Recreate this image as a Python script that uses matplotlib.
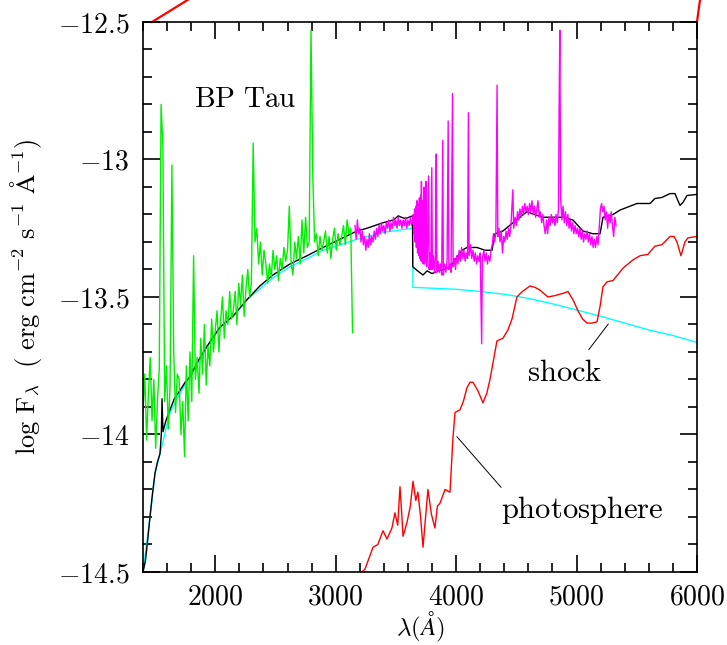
import numpy as np
import matplotlib.pyplot as plt
from matplotlib.ticker import MultipleLocator, FuncFormatter

plt.rcParams['mathtext.fontset'] = 'cm'
plt.rcParams['font.family'] = 'serif'
plt.rcParams['font.serif'] = ['DejaVu Serif']

# ---- data ----
# IUE spectrum (green), 15 A grid from 1400 to 3140
uv_wl = np.arange(1400, 3141, 15)
uv_flux = [
    -13.92, -13.78, -14.02, -13.85, -13.72, -13.95, -13.80, -14.05, -13.88, -13.76,
    -12.80, -12.95, -13.88, -13.75, -13.98, -13.82, -13.02, -13.70, -13.92, -13.78,
    -13.80, -14.00, -13.88, -14.08, -13.75, -13.95, -13.70, -13.88, -13.35, -13.80,
    -13.72, -13.85, -13.65, -13.78, -13.60, -13.82, -13.68, -13.75, -13.58, -13.70,
    -13.62, -13.55, -13.70, -13.58, -13.50, -13.65, -13.55, -13.60, -13.48, -13.58,
    -13.55, -13.48, -13.60, -13.45, -13.53, -13.42, -13.57, -13.47, -13.40, -13.50,
    -13.45, -12.94, -13.30, -13.25, -13.38, -13.30, -13.42, -13.33, -13.38, -13.45,
    -13.38, -13.43, -13.33, -13.40, -13.35, -13.44, -13.36, -13.40, -13.32, -13.37,
    -13.33, -13.17, -13.38, -13.42, -13.30, -13.36, -13.28, -13.38, -13.22, -13.34,
    -13.21, -13.32, -13.30, -12.53, -13.06, -13.30, -13.27, -13.35, -13.28, -13.33,
    -13.30, -13.26, -13.34, -13.28, -13.36, -13.29, -13.25, -13.33, -13.27, -13.31,
    -13.28, -13.24, -13.31, -13.22, -13.27, -13.25, -13.63,
]

# optical spectrum (magenta)
opt_wl = [
    3160, 3170, 3180, 3190, 3200, 3210, 3220, 3230, 3240, 3250, 3260, 3270, 3280,
    3290, 3300, 3310, 3320, 3330, 3340, 3350, 3360, 3370, 3380, 3390, 3400, 3410,
    3420, 3430, 3440, 3450, 3460, 3470, 3480, 3490, 3500, 3510, 3520, 3530, 3540,
    3550, 3560, 3570, 3580, 3590, 3600, 3610, 3620, 3630, 3640,
    3645, 3650, 3655, 3660, 3665, 3670, 3675, 3680, 3685, 3690, 3695, 3700, 3705,
    3710, 3712, 3715, 3720, 3725, 3730, 3734, 3738, 3744, 3750, 3755, 3762, 3771,
    3776, 3785, 3790, 3798, 3803, 3812, 3820, 3828, 3835, 3840, 3850, 3860, 3870,
    3880, 3889, 3894, 3905, 3915, 3925, 3934, 3940, 3950, 3958, 3970, 3975, 3985,
    3995, 4005, 4015, 4025, 4035, 4045, 4055, 4065, 4075, 4085, 4095, 4102, 4108,
    4120, 4130, 4140, 4150, 4160, 4170, 4180, 4190, 4200, 4212, 4218, 4230, 4240,
    4250, 4260, 4270, 4280, 4290, 4300, 4310, 4320, 4330, 4340, 4346, 4355, 4365,
    4375, 4385, 4395, 4405, 4415, 4425, 4435, 4445, 4455, 4471, 4478, 4490, 4500,
    4510, 4520, 4530, 4540, 4550, 4560, 4570, 4580, 4590, 4600, 4610, 4620, 4630,
    4640, 4650, 4660, 4670, 4680, 4690, 4700, 4710, 4720, 4730, 4740, 4750, 4760,
    4770, 4780, 4790, 4800, 4810, 4820, 4830, 4840, 4850, 4855, 4861, 4868, 4878,
    4888, 4898, 4908, 4918, 4928, 4938, 4948, 4958, 4968, 4978, 4988, 4998, 5008,
    5018, 5028, 5038, 5048, 5058, 5068, 5078, 5088, 5098, 5108, 5118, 5128, 5138,
    5148, 5158, 5168, 5178, 5188, 5198, 5208, 5218, 5228, 5238, 5248, 5258, 5268,
    5278, 5288, 5298, 5308, 5318, 5328,
]
opt_flux = [
    -13.24, -13.29, -13.22, -13.27, -13.25, -13.30, -13.26, -13.31, -13.28, -13.33,
    -13.29, -13.32, -13.27, -13.31, -13.28, -13.30, -13.26, -13.29, -13.25, -13.28,
    -13.24, -13.27, -13.23, -13.26, -13.24, -13.27, -13.23, -13.25, -13.22, -13.26,
    -13.23, -13.25, -13.21, -13.24, -13.22, -13.25, -13.21, -13.24, -13.22, -13.25,
    -13.22, -13.24, -13.21, -13.25, -13.22, -13.24, -13.21, -13.24, -13.22,
    -13.20, -13.27, -13.18, -13.30, -13.17, -13.32, -13.15, -13.34, -13.16, -13.35,
    -13.14, -13.36, -13.13, -13.37, -13.08, -13.36, -13.15, -13.38, -13.30, -13.10,
    -13.38, -13.32, -13.08, -13.39, -13.33, -13.06, -13.40, -13.34, -13.40, -13.03,
    -13.40, -13.35, -13.41, -13.36, -12.98, -13.41, -13.37, -13.41, -13.38, -13.42,
    -12.93, -13.42, -13.38, -13.41, -13.37, -12.86, -13.40, -13.38, -13.41, -12.76,
    -13.39, -13.36, -13.40, -13.35, -13.38, -13.33, -13.37, -13.32, -13.36, -13.33,
    -13.37, -13.34, -13.36, -12.83, -13.35, -13.31, -13.36, -13.33, -13.37, -13.34,
    -13.38, -13.35, -13.37, -13.34, -13.67, -13.36, -13.33, -13.37, -13.34, -13.38,
    -13.35, -13.37, -13.33, -13.31, -13.27, -13.30, -13.27, -12.73, -13.28, -13.25,
    -13.30, -13.26, -13.34, -13.28, -13.30, -13.26, -13.29, -13.25, -13.28, -13.24,
    -13.11, -13.25, -13.21, -13.24, -13.19, -13.22, -13.18, -13.21, -13.17, -13.20,
    -13.16, -13.19, -13.17, -13.20, -13.16, -13.19, -13.15, -13.20, -13.17, -13.21,
    -13.18, -13.15, -13.21, -13.19, -13.23, -13.20, -13.24, -13.27, -13.22, -13.27,
    -13.21, -13.24, -13.20, -13.23, -13.21, -13.24, -13.20, -13.23, -13.18, -12.82,
    -12.53, -13.14, -13.22, -13.17, -13.23, -13.19, -13.24, -13.20, -13.25, -13.22,
    -13.26, -13.23, -13.27, -13.24, -13.27, -13.25, -13.28, -13.25, -13.29, -13.26,
    -13.30, -13.27, -13.29, -13.26, -13.30, -13.27, -13.31, -13.28, -13.32, -13.29,
    -13.32, -13.28, -13.31, -13.25, -13.18, -13.16, -13.19, -13.17, -13.22, -13.19,
    -13.25, -13.20, -13.23, -13.19, -13.24, -13.28, -13.21, -13.24,
]

# total model (black)
tot_wl = [1400, 1420, 1440, 1458, 1480, 1500, 1520, 1541, 1552, 1558, 1566, 1590,
          1624, 1660, 1707, 1750, 1790, 1848, 1931, 2039, 2147, 2263, 2370, 2479,
          2620, 2762, 2895, 3036, 3177, 3260, 3393, 3480, 3520, 3545, 3580, 3638,
          3640, 3680, 3725, 3760, 3800, 3850, 3900, 3950, 4007, 4050, 4090, 4173,
          4240, 4298, 4323, 4389, 4472, 4530, 4588, 4650, 4721, 4800, 4887, 4970,
          5053, 5136, 5195, 5220, 5303, 5361, 5419, 5502, 5610, 5651, 5709, 5776,
          5817, 5859, 5884, 5917, 6000]
tot_flux = [-14.50, -14.46, -14.38, -14.30, -14.21, -14.14, -14.10, -14.07, -14.00,
            -13.87, -13.99, -13.95, -13.91, -13.87, -13.84, -13.81, -13.79, -13.74,
            -13.68, -13.61, -13.57, -13.51, -13.46, -13.42, -13.38, -13.35, -13.32,
            -13.29, -13.26, -13.25, -13.23, -13.22, -13.205, -13.21, -13.215, -13.205,
            -13.39, -13.405, -13.42, -13.405, -13.415, -13.405, -13.40, -13.39, -13.355,
            -13.33, -13.32, -13.32, -13.33, -13.33, -13.27, -13.26, -13.23, -13.21,
            -13.19, -13.20, -13.21, -13.21, -13.21, -13.22, -13.26, -13.27, -13.27,
            -13.21, -13.20, -13.184, -13.174, -13.16, -13.16, -13.142, -13.138, -13.124,
            -13.124, -13.167, -13.156, -13.131, -13.127]

# shock model (cyan)
shock_wl = [1400, 1458, 1500, 1541, 1624, 1707, 1790, 1931, 2039, 2147, 2263, 2479,
            2620, 2762, 2895, 3036, 3177, 3393, 3640, 3641, 3800, 4000, 4200, 4400,
            4600, 4800, 5000, 5200, 5400, 5600, 5800, 6000]
shock_flux = [-14.50, -14.30, -14.14, -14.07, -13.92, -13.85, -13.79, -13.68, -13.61,
              -13.57, -13.51, -13.43, -13.39, -13.36, -13.33, -13.31, -13.29, -13.265,
              -13.25, -13.465, -13.468, -13.472, -13.48, -13.49, -13.505, -13.525,
              -13.547, -13.57, -13.595, -13.62, -13.64, -13.665]

# photosphere model (red)
phot_wl = [3218, 3243, 3310, 3350, 3393, 3426, 3467, 3492, 3515, 3534, 3550, 3559,
           3592, 3620, 3642, 3665, 3683, 3705, 3725, 3766, 3795, 3824, 3845, 3866,
           3908, 3949, 3974, 3991, 4032, 4060, 4090, 4115, 4140, 4180, 4223, 4255,
           4281, 4310, 4339, 4389, 4430, 4464, 4505, 4550, 4613, 4655, 4696, 4763,
           4820, 4862, 4900, 4929, 4970, 5012, 5050, 5087, 5130, 5170, 5195, 5219,
           5253, 5303, 5386, 5469, 5527, 5593, 5651, 5709, 5776, 5810, 5834, 5867,
           5900, 5925, 6000]
phot_flux = [-14.50, -14.49, -14.41, -14.40, -14.35, -14.38, -14.34, -14.285, -14.33,
             -14.19, -14.30, -14.37, -14.32, -14.26, -14.17, -14.24, -14.21, -14.30,
             -14.41, -14.20, -14.29, -14.34, -14.26, -14.25, -14.20, -14.21, -14.01,
             -13.92, -13.91, -13.88, -13.83, -13.81, -13.81, -13.84, -13.885, -13.85,
             -13.80, -13.73, -13.66, -13.65, -13.62, -13.58, -13.50, -13.48, -13.46,
             -13.465, -13.475, -13.50, -13.495, -13.49, -13.485, -13.48, -13.51, -13.55,
             -13.58, -13.595, -13.595, -13.59, -13.535, -13.464, -13.445, -13.44, -13.395,
             -13.365, -13.35, -13.345, -13.315, -13.31, -13.28, -13.28, -13.30, -13.35,
             -13.30, -13.285, -13.28]

# red pieces drawn outside the frame
out_left_wl = [1475, 1770]
out_left_flux = [-12.5, -12.42]
out_right_wl = [6000, 6025]
out_right_flux = [-12.5, -12.42]

# ---- plot ----
fig = plt.figure(figsize=(7.27, 6.45), dpi=100)
ax = fig.add_axes([0.1967, 0.1132, 0.762, 0.8527])

ax.plot(shock_wl, shock_flux, color='cyan', lw=1.0)
ax.plot(phot_wl, phot_flux, color='red', lw=1.0)
ax.plot(tot_wl, tot_flux, color='black', lw=1.0)
ax.plot(uv_wl, uv_flux, color='#00ee00', lw=1.0)
ax.plot(opt_wl, opt_flux, color='magenta', lw=1.0)
ax.plot(out_left_wl, out_left_flux, color='red', lw=1.6, clip_on=False)
ax.plot(out_right_wl, out_right_flux, color='red', lw=1.6, clip_on=False)

ax.set_xlim(1400, 6000)
ax.set_ylim(-14.5, -12.5)

ax.xaxis.set_major_locator(MultipleLocator(1000))
ax.xaxis.set_minor_locator(MultipleLocator(200))
ax.yaxis.set_major_locator(MultipleLocator(0.5))
ax.yaxis.set_minor_locator(MultipleLocator(0.1))
fmt = FuncFormatter(lambda v, p: r'$%g$' % v)
ax.xaxis.set_major_formatter(fmt)
ax.yaxis.set_major_formatter(fmt)

ax.tick_params(which='both', direction='in', top=True, right=True, width=1.2,
               labelsize=20)
ax.tick_params(which='major', length=12)
ax.tick_params(which='minor', length=6.5)
ax.tick_params(axis='y', which='major', pad=10)
ax.tick_params(axis='x', which='major', pad=8)
for s in ax.spines.values():
    s.set_linewidth(1.2)

ax.set_xlabel(r'$\lambda(\AA)$', fontsize=18, labelpad=0)
ax.set_ylabel(r'$\mathrm{log\ F_\lambda\ \ (\ erg\ cm^{-2}\ s^{-1}\ \AA^{-1})}$',
              fontsize=19, labelpad=10)

ax.text(2250, -12.78, r'$\mathrm{BP\ Tau}$', fontsize=21, ha='center', va='center')

ax.annotate('', xy=(5278, -13.59), xytext=(5087, -13.70),
            arrowprops=dict(arrowstyle='-', color='black', lw=0.7))
ax.text(4905, -13.775, r'$\mathrm{shock}$', fontsize=22, ha='center', va='center')

ax.annotate('', xy=(3991, -14.00), xytext=(4389, -14.20),
            arrowprops=dict(arrowstyle='-', color='black', lw=0.7))
ax.text(5050, -14.275, r'$\mathrm{photosphere}$', fontsize=22, ha='center', va='center')

fig.savefig('out.png', dpi=100)
